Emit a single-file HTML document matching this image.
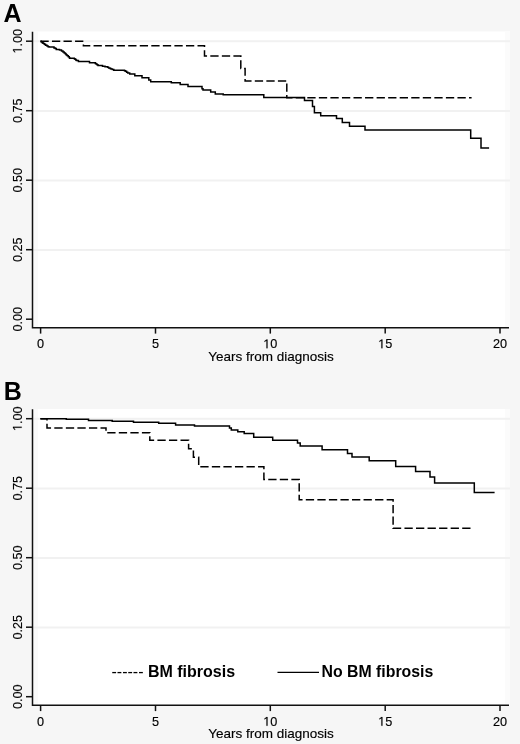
<!DOCTYPE html>
<html><head><meta charset="utf-8"><style>
html,body{margin:0;padding:0;background:#f6f6f6;}
body{width:520px;height:744px;overflow:hidden;}
svg{display:block;will-change:transform;}
.t{font-family:"Liberation Sans",sans-serif;font-size:12.7px;fill:#000;stroke:#000;stroke-width:0.15px;}
.ti{font-family:"Liberation Sans",sans-serif;font-size:13.5px;fill:#000;stroke:#000;stroke-width:0.15px;}
.L{font-family:"Liberation Sans",sans-serif;font-size:25px;font-weight:bold;fill:#000;}
.lg{font-family:"Liberation Sans",sans-serif;font-size:15.85px;font-weight:bold;fill:#000;}
</style></head><body>
<svg width="520" height="744" viewBox="0 0 520 744">
<rect width="520" height="744" fill="#f6f6f6"/>
<rect x="33" y="31.5" width="477" height="296.5" fill="#fff"/>
<rect x="33" y="31.5" width="5" height="296.5" fill="#fafafa"/>
<rect x="505" y="31.5" width="5" height="296.5" fill="#fbfbfb"/>
<line x1="33" x2="510" y1="41.3" y2="41.3" stroke="#f1f1f1" stroke-width="2"/>
<line x1="33" x2="510" y1="110.9" y2="110.9" stroke="#f1f1f1" stroke-width="2"/>
<line x1="33" x2="510" y1="180.4" y2="180.4" stroke="#f1f1f1" stroke-width="2"/>
<line x1="33" x2="510" y1="250.0" y2="250.0" stroke="#f1f1f1" stroke-width="2"/>
<path d="M32.5,31.8V327.8H509" fill="none" stroke="#111" stroke-width="1.5"/>
<line x1="26" x2="32.5" y1="41.2" y2="41.2" stroke="#111" stroke-width="1.5"/>
<g transform="translate(21.7,41.2) rotate(-90)"><path d="M515,0L515,1237L197,1010L197,1180L530,1409L696,1409L696,0Z" transform="translate(-12.36,0) scale(0.006201,-0.006201)" fill="#000" stroke="#000" stroke-width="24.2"/><text x="-5.30" y="0" class="t">.00</text></g>
<line x1="26" x2="32.5" y1="110.7" y2="110.7" stroke="#111" stroke-width="1.5"/>
<g transform="translate(21.7,110.7) rotate(-90)"><text x="-12.36" y="0" class="t">0.75</text></g>
<line x1="26" x2="32.5" y1="180.2" y2="180.2" stroke="#111" stroke-width="1.5"/>
<g transform="translate(21.7,180.2) rotate(-90)"><text x="-12.36" y="0" class="t">0.50</text></g>
<line x1="26" x2="32.5" y1="249.7" y2="249.7" stroke="#111" stroke-width="1.5"/>
<g transform="translate(21.7,249.7) rotate(-90)"><text x="-12.36" y="0" class="t">0.25</text></g>
<line x1="26" x2="32.5" y1="319.2" y2="319.2" stroke="#111" stroke-width="1.5"/>
<g transform="translate(21.7,319.2) rotate(-90)"><text x="-12.36" y="0" class="t">0.00</text></g>
<line x1="40.6" x2="40.6" y1="327.8" y2="333.6" stroke="#111" stroke-width="1.5"/>
<text x="37.07" y="348.3" class="t">0</text>
<line x1="155.5" x2="155.5" y1="327.8" y2="333.6" stroke="#111" stroke-width="1.5"/>
<text x="151.97" y="348.3" class="t">5</text>
<line x1="270.3" x2="270.3" y1="327.8" y2="333.6" stroke="#111" stroke-width="1.5"/>
<path d="M515,0L515,1237L197,1010L197,1180L530,1409L696,1409L696,0Z" transform="translate(263.24,348.3) scale(0.006201,-0.006201)" fill="#000" stroke="#000" stroke-width="24.2"/><text x="270.30" y="348.3" class="t">0</text>
<line x1="385.2" x2="385.2" y1="327.8" y2="333.6" stroke="#111" stroke-width="1.5"/>
<path d="M515,0L515,1237L197,1010L197,1180L530,1409L696,1409L696,0Z" transform="translate(378.14,348.3) scale(0.006201,-0.006201)" fill="#000" stroke="#000" stroke-width="24.2"/><text x="385.20" y="348.3" class="t">5</text>
<line x1="500.0" x2="500.0" y1="327.8" y2="333.6" stroke="#111" stroke-width="1.5"/>
<text x="492.94" y="348.3" class="t">20</text>
<text x="271.1" y="360.6" text-anchor="middle" class="ti">Years from diagnosis</text>
<text x="3.5" y="21.8" class="L">A</text>
<path d="M40.4,41.2H83.4V45.8H204.5V56.1H240.8V68.5H245.1V80.9H286.8V97.7H471.6" fill="none" stroke="#000" stroke-width="1.5" stroke-dasharray="8.3 3.25"/>
<path d="M40.4,41.2H41.3V42.0H42.3V42.8H43.0V43.3H43.8V43.8H44.7V44.5H45.7V45.2H47.0V46.0H48.1V46.7H49.1V47.1H54.0V48.0H55.3V48.6H56.3V49.5H59.5V50.0H61.5V51.0H63.0V52.0H64.2V53.0H65.4V53.9H66.3V54.9H67.3V55.8H68.3V56.8H69.3V57.7H69.7V58.2H74.3V58.7H75.0V59.2H75.8V59.9H76.5V60.6H78.4V61.6H89.5V62.7H95.3V63.4H96.1V64.1H97.0V64.8H98.0V65.4H102.5V66.2H105.0V66.7H107.6V67.3H108.6V68.0H110.0V68.5H111.0V68.9H112.4V69.5H113.8V70.2H124.5V70.8H125.4V71.3H126.6V72.2H127.8V73.1H129.7V74.0H134.8V75.8H142.0V77.7H148.8V79.9H150.7V81.8H171.3V82.8H180.2V84.6H188.0V86.5H202.0V88.7H203.0V90.0H210.7V92.0H215.3V94.0H223.2V94.8H263.8V97.5H304.5V100.6H312.5V106.5H314.4V112.8H320.7V115.7H336.5V118.6H342.3V122.4H349.5V126.3H365.0V129.9H470.7V138.3H481.0V148.0H489.1" fill="none" stroke="#000" stroke-width="1.5"/>
<rect x="33" y="409.0" width="477" height="296.5" fill="#fff"/>
<rect x="33" y="409.0" width="5" height="296.5" fill="#fafafa"/>
<rect x="505" y="409.0" width="5" height="296.5" fill="#fbfbfb"/>
<line x1="33" x2="510" y1="418.8" y2="418.8" stroke="#f1f1f1" stroke-width="2"/>
<line x1="33" x2="510" y1="488.4" y2="488.4" stroke="#f1f1f1" stroke-width="2"/>
<line x1="33" x2="510" y1="557.9" y2="557.9" stroke="#f1f1f1" stroke-width="2"/>
<line x1="33" x2="510" y1="627.5" y2="627.5" stroke="#f1f1f1" stroke-width="2"/>
<path d="M32.5,409.3V705.3H509" fill="none" stroke="#111" stroke-width="1.5"/>
<line x1="26" x2="32.5" y1="418.7" y2="418.7" stroke="#111" stroke-width="1.5"/>
<g transform="translate(21.7,418.7) rotate(-90)"><path d="M515,0L515,1237L197,1010L197,1180L530,1409L696,1409L696,0Z" transform="translate(-12.36,0) scale(0.006201,-0.006201)" fill="#000" stroke="#000" stroke-width="24.2"/><text x="-5.30" y="0" class="t">.00</text></g>
<line x1="26" x2="32.5" y1="488.2" y2="488.2" stroke="#111" stroke-width="1.5"/>
<g transform="translate(21.7,488.2) rotate(-90)"><text x="-12.36" y="0" class="t">0.75</text></g>
<line x1="26" x2="32.5" y1="557.7" y2="557.7" stroke="#111" stroke-width="1.5"/>
<g transform="translate(21.7,557.7) rotate(-90)"><text x="-12.36" y="0" class="t">0.50</text></g>
<line x1="26" x2="32.5" y1="627.2" y2="627.2" stroke="#111" stroke-width="1.5"/>
<g transform="translate(21.7,627.2) rotate(-90)"><text x="-12.36" y="0" class="t">0.25</text></g>
<line x1="26" x2="32.5" y1="696.7" y2="696.7" stroke="#111" stroke-width="1.5"/>
<g transform="translate(21.7,696.7) rotate(-90)"><text x="-12.36" y="0" class="t">0.00</text></g>
<line x1="40.6" x2="40.6" y1="705.3" y2="711.1" stroke="#111" stroke-width="1.5"/>
<text x="37.07" y="725.8" class="t">0</text>
<line x1="155.5" x2="155.5" y1="705.3" y2="711.1" stroke="#111" stroke-width="1.5"/>
<text x="151.97" y="725.8" class="t">5</text>
<line x1="270.3" x2="270.3" y1="705.3" y2="711.1" stroke="#111" stroke-width="1.5"/>
<path d="M515,0L515,1237L197,1010L197,1180L530,1409L696,1409L696,0Z" transform="translate(263.24,725.8) scale(0.006201,-0.006201)" fill="#000" stroke="#000" stroke-width="24.2"/><text x="270.30" y="725.8" class="t">0</text>
<line x1="385.2" x2="385.2" y1="705.3" y2="711.1" stroke="#111" stroke-width="1.5"/>
<path d="M515,0L515,1237L197,1010L197,1180L530,1409L696,1409L696,0Z" transform="translate(378.14,725.8) scale(0.006201,-0.006201)" fill="#000" stroke="#000" stroke-width="24.2"/><text x="385.20" y="725.8" class="t">5</text>
<line x1="500.0" x2="500.0" y1="705.3" y2="711.1" stroke="#111" stroke-width="1.5"/>
<text x="492.94" y="725.8" class="t">20</text>
<text x="271.1" y="738.1" text-anchor="middle" class="ti">Years from diagnosis</text>
<text x="3.8" y="400.3" class="L">B</text>
<path d="M40.4,418.7H47.0V427.9H106.0V432.7H149.8V440.3H188.6V448.8H193.4V457.2H198.7V466.7H263.9V479.6H299.2V499.8H393.1V528.2H470.6" fill="none" stroke="#000" stroke-width="1.5" stroke-dasharray="8.3 3.25"/>
<path d="M40.4,418.7H66.3V419.3H88.5V420.4H112.2V421.3H133.5V422.2H158.7V423.3H175.6V424.9H194.5V426.1H229.5V428.0H231.3V429.9H237.8V431.8H244.2V433.6H253.7V437.2H272.7V440.3H297.5V443.1H300.2V446.0H322.1V449.8H347.5V453.5H352.0V456.9H369.2V460.8H395.7V466.5H415.6V471.6H430.0V476.9H434.6V483.0H474.3V492.4H494.6" fill="none" stroke="#000" stroke-width="1.5"/>
<text x="111.5" y="676.5" class="lg" style="font-size:16px"><tspan font-weight="normal">------</tspan> BM fibrosis</text>
<line x1="277.5" x2="319" y1="672.4" y2="672.4" stroke="#000" stroke-width="1.4"/>
<text x="321.5" y="676.5" class="lg">No BM fibrosis</text>
</svg>
</body></html>
